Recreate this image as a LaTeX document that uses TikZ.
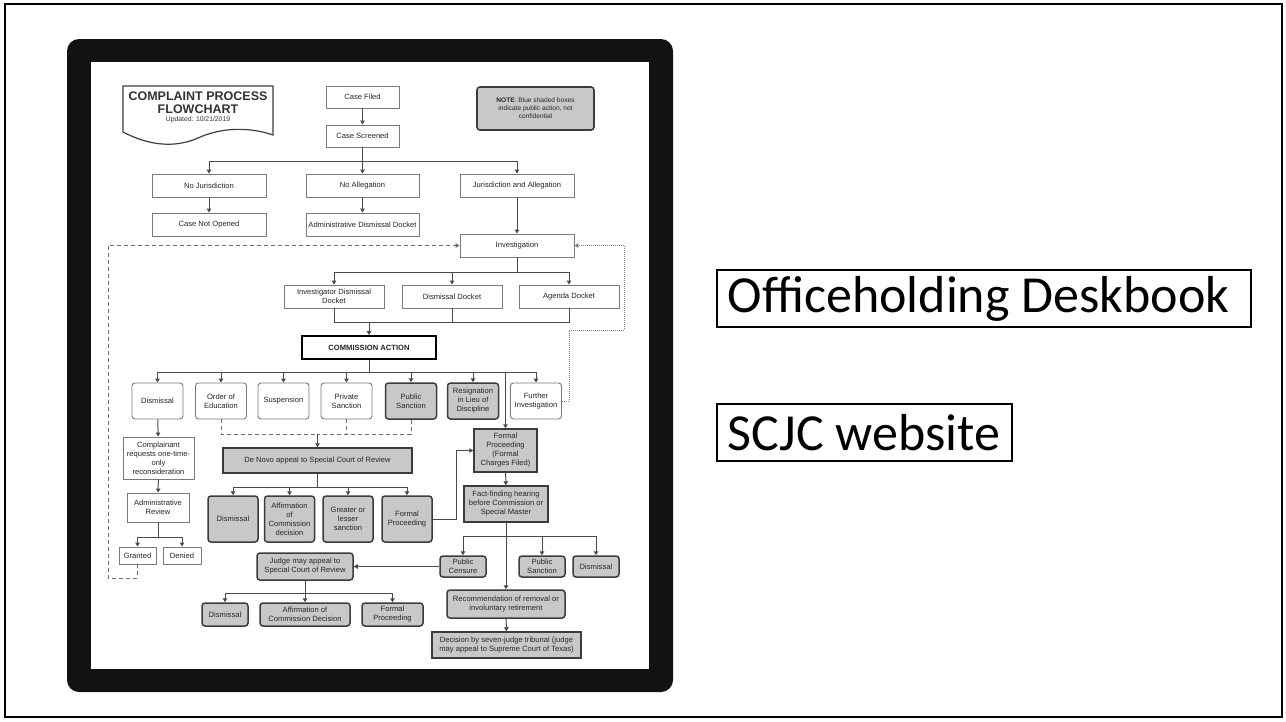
\documentclass[tikz,border=0pt]{standalone}
\usepackage{fontspec}
\setmainfont{Liberation Sans}
\newfontfamily\carl{Carlito}
\usetikzlibrary{arrows.meta}
\definecolor{gfill}{HTML}{C8C8C8}
\definecolor{gline}{HTML}{3C3C3C}
\definecolor{wline}{HTML}{7A7A7A}
\definecolor{cline}{HTML}{4A4A4A}
\begin{document}
\begin{tikzpicture}[x=1pt,y=-1pt,
  base/.style={align=center, inner sep=0pt, font=\fontsize{7.6}{9}\selectfont, text=black!85},
  wb/.style={base, draw=wline, line width=0.9pt, fill=white},
  wr/.style={wb, rounded corners=3pt},
  gb/.style={base, draw=gline, line width=1.5pt, fill=gfill},
  gr/.style={gb, rounded corners=3pt},
  sz/.style 2 args={minimum width=#1pt, minimum height=#2pt},
  conn/.style={draw=cline, line width=1pt},
  arr/.style={conn, -{Triangle[length=4pt,width=4.5pt]}},
  dsh/.style={draw=cline!80, line width=1pt, dash pattern=on 4pt off 3pt},
  dtt/.style={draw=cline!70, line width=0.9pt, dash pattern=on 1pt off 1pt},
  big/.style={draw=black, line width=1.6pt, inner ysep=0pt, inner xsep=11pt, minimum height=57pt, font=\carl\fontsize{52}{60}\selectfont}
]
\useasboundingbox (0,0) rectangle (1286,721);
\fill[white] (0,0) rectangle (1286,721);
\draw[line width=2pt] (5,4) rectangle (1282,717);
% black frame
\fill[black!93, rounded corners=12pt] (67,39) rectangle (673,692);
\fill[white] (91,62) rectangle (649,669);

% title
\draw[draw=black!75, line width=1.2pt, fill=white] (123,86) -- (273,86) -- (273,135) .. controls (250,127) and (222,127) .. (198,138) .. controls (175,148) and (150,146) .. (123,132) -- cycle;
\node[align=center, inner sep=0pt, text=black!80, font=\bfseries\fontsize{12.5}{13}\selectfont] (title) at (198,102.5) {COMPLAINT PROCESS\\FLOWCHART};
\node[inner sep=0pt, text=black!80, font=\fontsize{6.8}{8}\selectfont] (upd) at (198,120) {Updated: 10/21/2019};

% nodes
\node[wb, sz={73}{22}] (filed) at (362.5,97) {Case Filed};
\node[wb, sz={73}{22}] (screened) at (362.5,136) {Case Screened};
\node[gr, sz={117}{43}, line width=1.6pt, font=\fontsize{6.6}{8}\selectfont] (note) at (535.5,108.5) {\textbf{NOTE}: Blue shaded boxes\\indicate public action, not\\confidential};
\node[wb, sz={114}{23}] (nojur) at (209,185.5) {No Jurisdiction};
\node[wb, sz={113}{23}] (noall) at (362.5,185.5) {No Allegation};
\node[wb, sz={114}{23}] (jurall) at (517,185.5) {Jurisdiction and Allegation};
\node[wb, sz={114}{23}] (notop) at (209,224.5) {Case Not Opened};
\node[wb, sz={113}{23}] (admdis) at (362.5,224.5) {Administrative Dismissal Docket};
\node[wb, sz={114}{23}] (invest) at (517,245.5) {Investigation};
\node[wb, sz={100}{23}] (idd) at (334,296.5) {Investigator Dismissal\\Docket};
\node[wb, sz={100}{23}] (dd) at (452,296.5) {Dismissal Docket};
\node[wb, sz={100}{23}] (ad) at (569,296.5) {Agenda Docket};
\node[wb, sz={134}{23}, draw=black, line width=1.8pt, font=\bfseries\fontsize{7.6}{9}\selectfont] (comm) at (369,347.5) {COMMISSION ACTION};

\node[wr, sz={51}{36}] (dis1) at (157.5,401) {Dismissal};
\node[wr, sz={51}{36}] (oed) at (221,401) {Order of\\Education};
\node[wr, sz={51}{36}] (susp) at (283.5,401) {Suspension};
\node[wr, sz={51}{36}] (priv) at (346.5,401) {Private\\Sanction};
\node[gr, sz={51}{36}] (pubs) at (411,401) {Public\\Sanction};
\node[gr, sz={51}{36}] (resig) at (473,401) {Resignation\\in Lieu of\\Discipline};
\node[wr, sz={51}{36}] (furth) at (536,401) {Further\\Investigation};

\node[gb, sz={63}{43}] (fp1) at (505.5,450.5) {Formal\\Proceeding\\(Formal\\Charges Filed)};
\node[gb, sz={84}{36}] (ff) at (506,504) {Fact-finding hearing\\before Commission or\\Special Master};
\node[gr, sz={46}{21}] (pcens) at (463,566.5) {Public\\Censure};
\node[gr, sz={46}{21}] (psan2) at (542,566.5) {Public\\Sanction};
\node[gr, sz={46}{21}] (dis3) at (596,566.5) {Dismissal};
\node[gr, sz={118}{28}] (rec) at (506,604) {Recommendation of removal or\\involuntary retirement};
\node[gb, sz={149}{26}] (dec) at (506.5,645) {Decision by seven-judge tribunal (judge\\may appeal to Supreme Court of Texas)};

\node[gr, sz={96}{27}] (judge) at (305,566.5) {Judge may appeal to\\Special Court of Review};
\node[gr, sz={46}{23}] (dis4) at (225,614.5) {Dismissal};
\node[gr, sz={90}{23}] (affd) at (305,614.5) {Affirmation of\\Commission Decision};
\node[gr, sz={61}{23}] (fp3) at (392.5,614.5) {Formal\\Proceeding};

\node[gb, sz={189}{25}] (denovo) at (317.5,460.5) {De Novo appeal to Special Court of Review};
\node[gr, sz={50}{46}] (dis2) at (233,519) {Dismissal};
\node[gr, sz={50}{46}] (aff) at (289.5,519) {Affirmation\\of\\Commission\\decision};
\node[gr, sz={50}{46}] (gl) at (348,519) {Greater or\\lesser\\sanction};
\node[gr, sz={50}{46}] (fp2) at (407,519) {Formal\\Proceeding};

\node[wb, sz={71}{42}] (compl) at (158.5,458) {Complainant\\requests one-time-\\only\\reconsideration};
\node[wb, sz={62}{29}] (admrev) at (158,507.5) {Administrative\\Review};
\node[wb, sz={37}{17}] (granted) at (137.5,555.5) {Granted};
\node[wb, sz={38}{17}] (denied) at (182,555.5) {Denied};

% right texts
\node[big, anchor=west] (odb) at (716,298.5) {\makebox[512pt][l]{Officeholding Deskbook}};
\node[big, anchor=west] (scjc) at (716,432.5) {\makebox[273pt][l]{SCJC website}};

% connectors
\coordinate (b1) at (362.5,161);
\coordinate (b2) at (517,272);
\coordinate (b3) at (369,322);
\coordinate (b4) at (369,372);
\coordinate (b5) at (317.5,434);
\coordinate (b6) at (317.5,487);
\coordinate (b7) at (506,536);
\coordinate (b8) at (305,593);
\coordinate (b9) at (158,537);
\coordinate (k1) at (456,519);
\coordinate (d1) at (108,578);
\coordinate (e1) at (569,330);
\coordinate (e2) at (624,245.5);

\draw[arr] (filed) -- (screened);
\draw[conn] (screened) -- (b1);
\draw[arr] (b1) -| (nojur.north);
\draw[arr] (b1) -- (noall.north);
\draw[arr] (b1) -| (jurall.north);
\draw[arr] (nojur) -- (notop);
\draw[arr] (noall) -- (admdis);
\draw[arr] (jurall) -- (invest);
\draw[conn] (invest) -- (b2);
\draw[arr] (b2) -| (idd.north);
\draw[arr] (b2) -| (dd.north);
\draw[arr] (b2) -| (ad.north);
\draw[conn] (idd.south) |- (b3);
\draw[conn] (dd.south) |- (b3);
\draw[conn] (ad.south) |- (b3);
\draw[arr] (b3) -- (comm.north);
\draw[conn] (comm) -- (b4);
\draw[arr] (b4) -| (dis1.north);
\draw[arr] (b4) -| (oed.north);
\draw[arr] (b4) -| (susp.north);
\draw[arr] (b4) -| (priv.north);
\draw[arr] (b4) -| (pubs.north);
\draw[arr] (b4) -| (resig.north);
\draw[arr] (b4) -| (furth.north);
\draw[arr] (b4) -| (fp1.north);
\draw[dsh] (oed.south) |- (b5);
\draw[dsh] (pubs.south) |- (b5);
\draw[dsh] (priv.south) -- (priv.south |- b5);
\draw[arr] (b5) -- (denovo.north);
\draw[conn] (denovo) -- (b6);
\draw[arr] (b6) -| (dis2.north);
\draw[arr] (b6) -| (aff.north);
\draw[arr] (b6) -| (gl.north);
\draw[arr] (b6) -| (fp2.north);
\draw[arr] (fp2.east) -- (k1) |- (fp1.west);
\draw[arr] (fp1) -- (ff);
\draw[conn] (ff.south) -- (b7);
\draw[arr] (b7) -| (pcens.north);
\draw[arr] (b7) -| (psan2.north);
\draw[arr] (b7) -| (dis3.north);
\draw[arr] (ff.south) -- (rec.north);
\draw[arr] (rec) -- (dec);
\draw[arr] (pcens.west) -- (judge.east);
\draw[conn] (judge) -- (b8);
\draw[arr] (b8) -| (dis4.north);
\draw[arr] (b8) -- (affd.north);
\draw[arr] (b8) -| (fp3.north);
\draw[arr] (dis1) -- (compl);
\draw[arr] (compl) -- (admrev);
\draw[conn] (admrev) -- (b9);
\draw[arr] (b9) -| (granted.north);
\draw[arr] (b9) -| (denied.north);
\draw[dsh, -{Triangle[length=4pt,width=4.5pt]}] (granted.south) |- (d1) |- (invest.west);
\draw[dtt, -{Triangle[length=4pt,width=4.5pt]}] (furth.east) -| (e1) -| (e2) -- (invest.east);
\end{tikzpicture}
\end{document}
